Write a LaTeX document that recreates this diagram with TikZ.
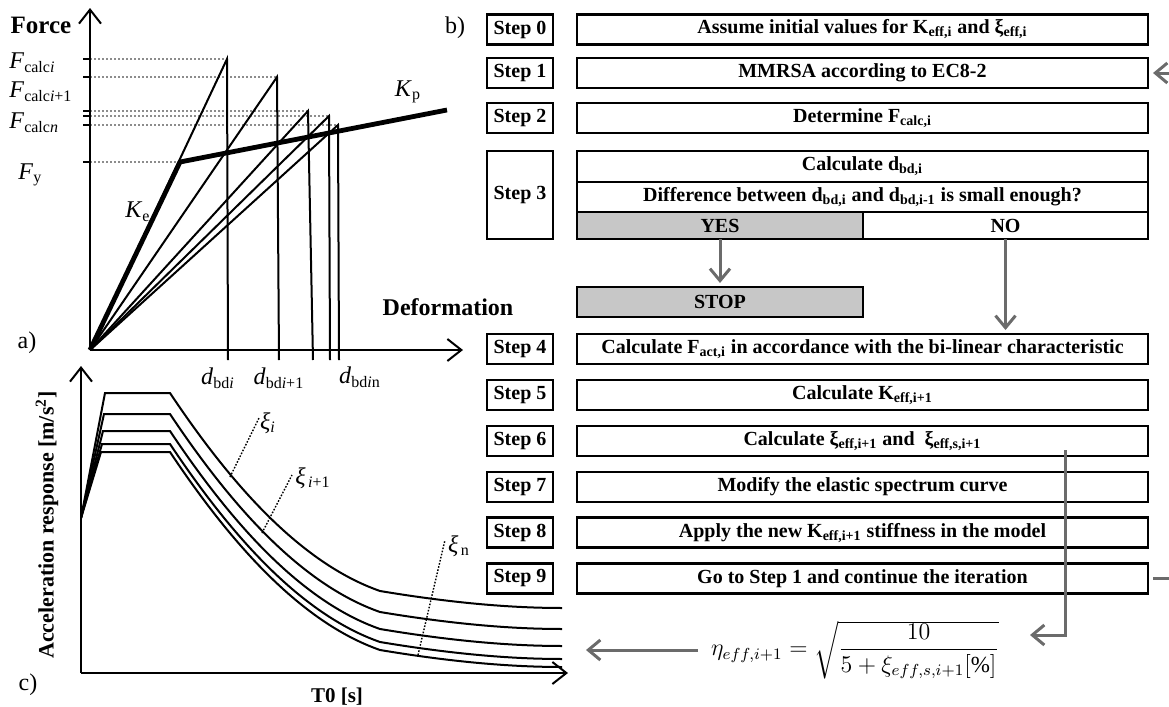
\documentclass[tikz,border=0pt]{standalone}
\usepackage{amsmath}
\usepackage{fontspec}
\setmainfont{Liberation Serif}
\usepackage{tikz}
\usetikzlibrary{positioning,arrows.meta}
\tikzstyle{stepbox}=[rectangle, draw=black, line width=1.2pt, outer sep=0pt, inner sep=0pt,
        minimum width=33pt, minimum height=15pt, font=\bfseries\fontsize{10}{12}\selectfont]
\tikzstyle{taskbox}=[rectangle, draw=black, line width=1.2pt, outer sep=0pt, inner sep=0pt,
        minimum width=285.5pt, minimum height=15pt, font=\bfseries\fontsize{10}{12}\selectfont]
\tikzstyle{halfbox}=[taskbox, minimum width=143pt, minimum height=13.5pt, fill=black!22]
\tikzstyle{grayarrow}=[-{Straight Barb[length=6pt,width=10pt]}, line width=1.5pt, draw=black!58]
\tikzstyle{axisarrow}=[-{Straight Barb[length=7pt,width=11pt]}, line width=1pt]
\tikzstyle{guide}=[line width=1pt, draw=black!45, dash pattern=on 1pt off 1pt]
\tikzstyle{leader}=[line width=0.7pt, dash pattern=on 0.8pt off 0.8pt]
\tikzstyle{thinline}=[line width=1pt]
\tikzstyle{stiffline}=[line width=2.4pt, line join=round]
\tikzstyle{txtlabel}=[inner sep=0pt, font=\fontsize{12}{14}\selectfont]

\begin{document}
\begin{tikzpicture}[x=0.5pt, y=-0.5pt]
\useasboundingbox (0,0) rectangle (1169,707);

% a) force - deformation
\coordinate (Orig) at (90,350);
\coordinate (ForceTop) at (90,8);
\coordinate (DefEnd) at (463,350);
\coordinate (Yield) at (180,162);
\coordinate (KpEnd) at (447,110);
\coordinate (Peak1) at (227,59);
\coordinate (Peak2) at (277,77);
\coordinate (Peak3) at (308,111);
\coordinate (Peak4) at (329,116);
\coordinate (Peak5) at (338,125);
\coordinate (Foot1) at (228,360);
\coordinate (Foot2) at (279,360);
\coordinate (Foot3) at (313,360);
\coordinate (Foot4) at (330,360);
\coordinate (Foot5) at (339,360);

\foreach \p in {1,...,5}
    \draw[guide] (Orig |- Peak\p) -- (Peak\p);
\draw[guide] (Orig |- Yield) -- (Yield);
\foreach \y in {59,77,111,116,125,162}
    \draw[line width=1.2pt] (83,\y) -- (90,\y);

\draw[axisarrow] (Orig) -- (ForceTop);
\draw[axisarrow] (Orig) -- (DefEnd);
\foreach \p in {1,...,5}
    \draw[thinline] (Orig) -- (Peak\p) -- (Foot\p);
\draw[stiffline] (Orig) -- (Yield) -- (KpEnd);

\node (ForceLbl) at (41,25) {\bfseries\fontsize{12.5}{14}\selectfont Force};
\node (DefLbl) at (448,307) {\bfseries\fontsize{12}{14}\selectfont Deformation};
\node (FcalcI) [txtlabel, anchor=west] at (9,63) {\textit{F}\textsubscript{calc\textit{i}}};
\node (FcalcII) [txtlabel, anchor=west] at (9,92) {\textit{F}\textsubscript{calc\textit{i}+1}};
\node (FcalcN) [txtlabel, anchor=west] at (9,123) {\textit{F}\textsubscript{calc\textit{n}}};
\node (Fy) [txtlabel, anchor=west] at (18,175) {\textit{F}\textsubscript{y}};
\node (KeLbl) [txtlabel] at (138,212) {\textit{K}\textsubscript{e}};
\node (KpLbl) [txtlabel] at (408,92) {\textit{K}\textsubscript{p}};
\node (DbdI) [txtlabel] at (218,378) {\textit{d}\textsubscript{bd\textit{i}}};
\node (DbdII) [txtlabel] at (279,378) {\textit{d}\textsubscript{bd\textit{i}+1}};
\node (DbdN) [txtlabel] at (360,377) {\textit{d}\textsubscript{bd\textit{i}n}};
\node (PartA) at (27,343) {\fontsize{12}{14}\selectfont a)};
\node (PartB) at (455,28) {\fontsize{12}{14}\selectfont b)};
\node (PartC) at (28,685) {\fontsize{12}{14}\selectfont c)};

% c) spectrum
\coordinate (SpecOrig) at (81,673);
\coordinate (SpecTop) at (81,366);
\coordinate (SpecEnd) at (568,673);
\draw[axisarrow] (SpecOrig) -- (SpecTop);
\draw[axisarrow] (SpecOrig) -- (SpecEnd);
\foreach \yp/\xc in {393/105, 414/104, 431/103, 444/102, 452/101}
    \draw[thinline] (81,518) -- (\xc,\yp) -- (170,\yp)
        .. controls +(60,90) and +(-80,-28) .. (380,\yp+198)
        .. controls +(60,10) and +(-60,0) .. (562,\yp+215);

\draw[leader] (230,477) -- (259,418);
\draw[leader] (262,533) -- (292,475);
\draw[leader] (418,655) -- (445,540);
\node (XiI) [txtlabel] at (268,423) {\textit{ξ}\textsubscript{\textit{i}}};
\node (XiII) [txtlabel] at (313,478) {\textit{ξ}\textsubscript{\,\textit{i}+1}};
\node (XiN) [txtlabel] at (459,546) {\textit{ξ}\textsubscript{\,n}};
\node (AccLbl) [rotate=90] at (47,525) {\bfseries\fontsize{11}{13}\selectfont Acceleration response [m/s\textsuperscript{2}]};
\node (TLbl) at (337,697) {\bfseries\fontsize{10.5}{12}\selectfont T0 [s]};

% b) iteration steps
\node (Step0) [stepbox] at (520,29.5) {Step 0};
\node (Task0) [taskbox, right=12pt of Step0] {Assume initial values for K\textsubscript{eff,i} and ξ\textsubscript{eff,i}};
\node (Step1) [stepbox] at (520,73) {Step 1};
\node (Task1) [taskbox, right=12pt of Step1] {MMRSA according to EC8-2};
\node (Step2) [stepbox] at (520,118) {Step 2};
\node (Task2) [taskbox, right=12pt of Step2] {Determine F\textsubscript{calc,i}};
\node (Step3) [stepbox, minimum height=44pt] at (520,195) {Step 3};
\node (Task3a) [taskbox, minimum height=15.5pt, right=12pt of Step3.north east, anchor=north west]
    {Calculate d\textsubscript{bd,i}};
\node (Task3b) [taskbox, below=0pt of Task3a]
    {Difference between d\textsubscript{bd,i} and d\textsubscript{bd,i-1} is small enough?};
\node (YesBox) [halfbox, below=0pt of Task3b.south west, anchor=north west] {YES};
\node (NoBox) [halfbox, fill=none, minimum width=142.5pt, right=0pt of YesBox] {NO};
\node (StopBox) [halfbox, minimum height=15pt, below=24pt of YesBox] {STOP};

\node (Step4) [stepbox] at (520,349) {Step 4};
\node (Task4) [taskbox, right=12pt of Step4] {Calculate F\textsubscript{act,i} in accordance with the bi-linear characteristic};
\node (Step5) [stepbox] at (520,394.9) {Step 5};
\node (Task5) [taskbox, right=12pt of Step5] {Calculate K\textsubscript{eff,i+1}};
\node (Step6) [stepbox] at (520,440.8) {Step 6};
\node (Task6) [taskbox, right=12pt of Step6] {Calculate ξ\textsubscript{eff,i+1} and \ ξ\textsubscript{eff,s,i+1}};
\node (Step7) [stepbox] at (520,486.7) {Step 7};
\node (Task7) [taskbox, right=12pt of Step7] {Modify the elastic spectrum curve};
\node (Step8) [stepbox] at (520,532.6) {Step 8};
\node (Task8) [taskbox, right=12pt of Step8] {Apply the new K\textsubscript{eff,i+1} stiffness in the model};
\node (Step9) [stepbox] at (520,578.5) {Step 9};
\node (Task9) [taskbox, right=12pt of Step9] {Go to Step 1 and continue the iteration};

\node (Formula) at (855,650) {\fontsize{11.5}{13}\selectfont
    $\eta_{eff,i+1} = \sqrt{\dfrac{10}{5+\xi_{eff,s,i+1}[\%]}}$};

\coordinate (XiOut) at (1065,450);
\coordinate (EtaIn) at (1030,635);
\coordinate (SpecTail) at (586,650);
\coordinate (LoopRight) at (1200,0);

\draw[grayarrow, shorten >=2pt] (YesBox.south) -- (StopBox.north);
\draw[grayarrow, shorten >=2pt] (NoBox.south) -- (NoBox.south |- Task4.north);
\draw[grayarrow] (XiOut) |- (EtaIn);
\draw[grayarrow, shorten <=3pt] (Formula.west) -- (Formula.west -| SpecTail);
\draw[grayarrow, shorten <=2.5pt, shorten >=2.5pt] (Task9.east) -- (Task9.east -| LoopRight) |- (Task1.east);
\end{tikzpicture}
\end{document}
